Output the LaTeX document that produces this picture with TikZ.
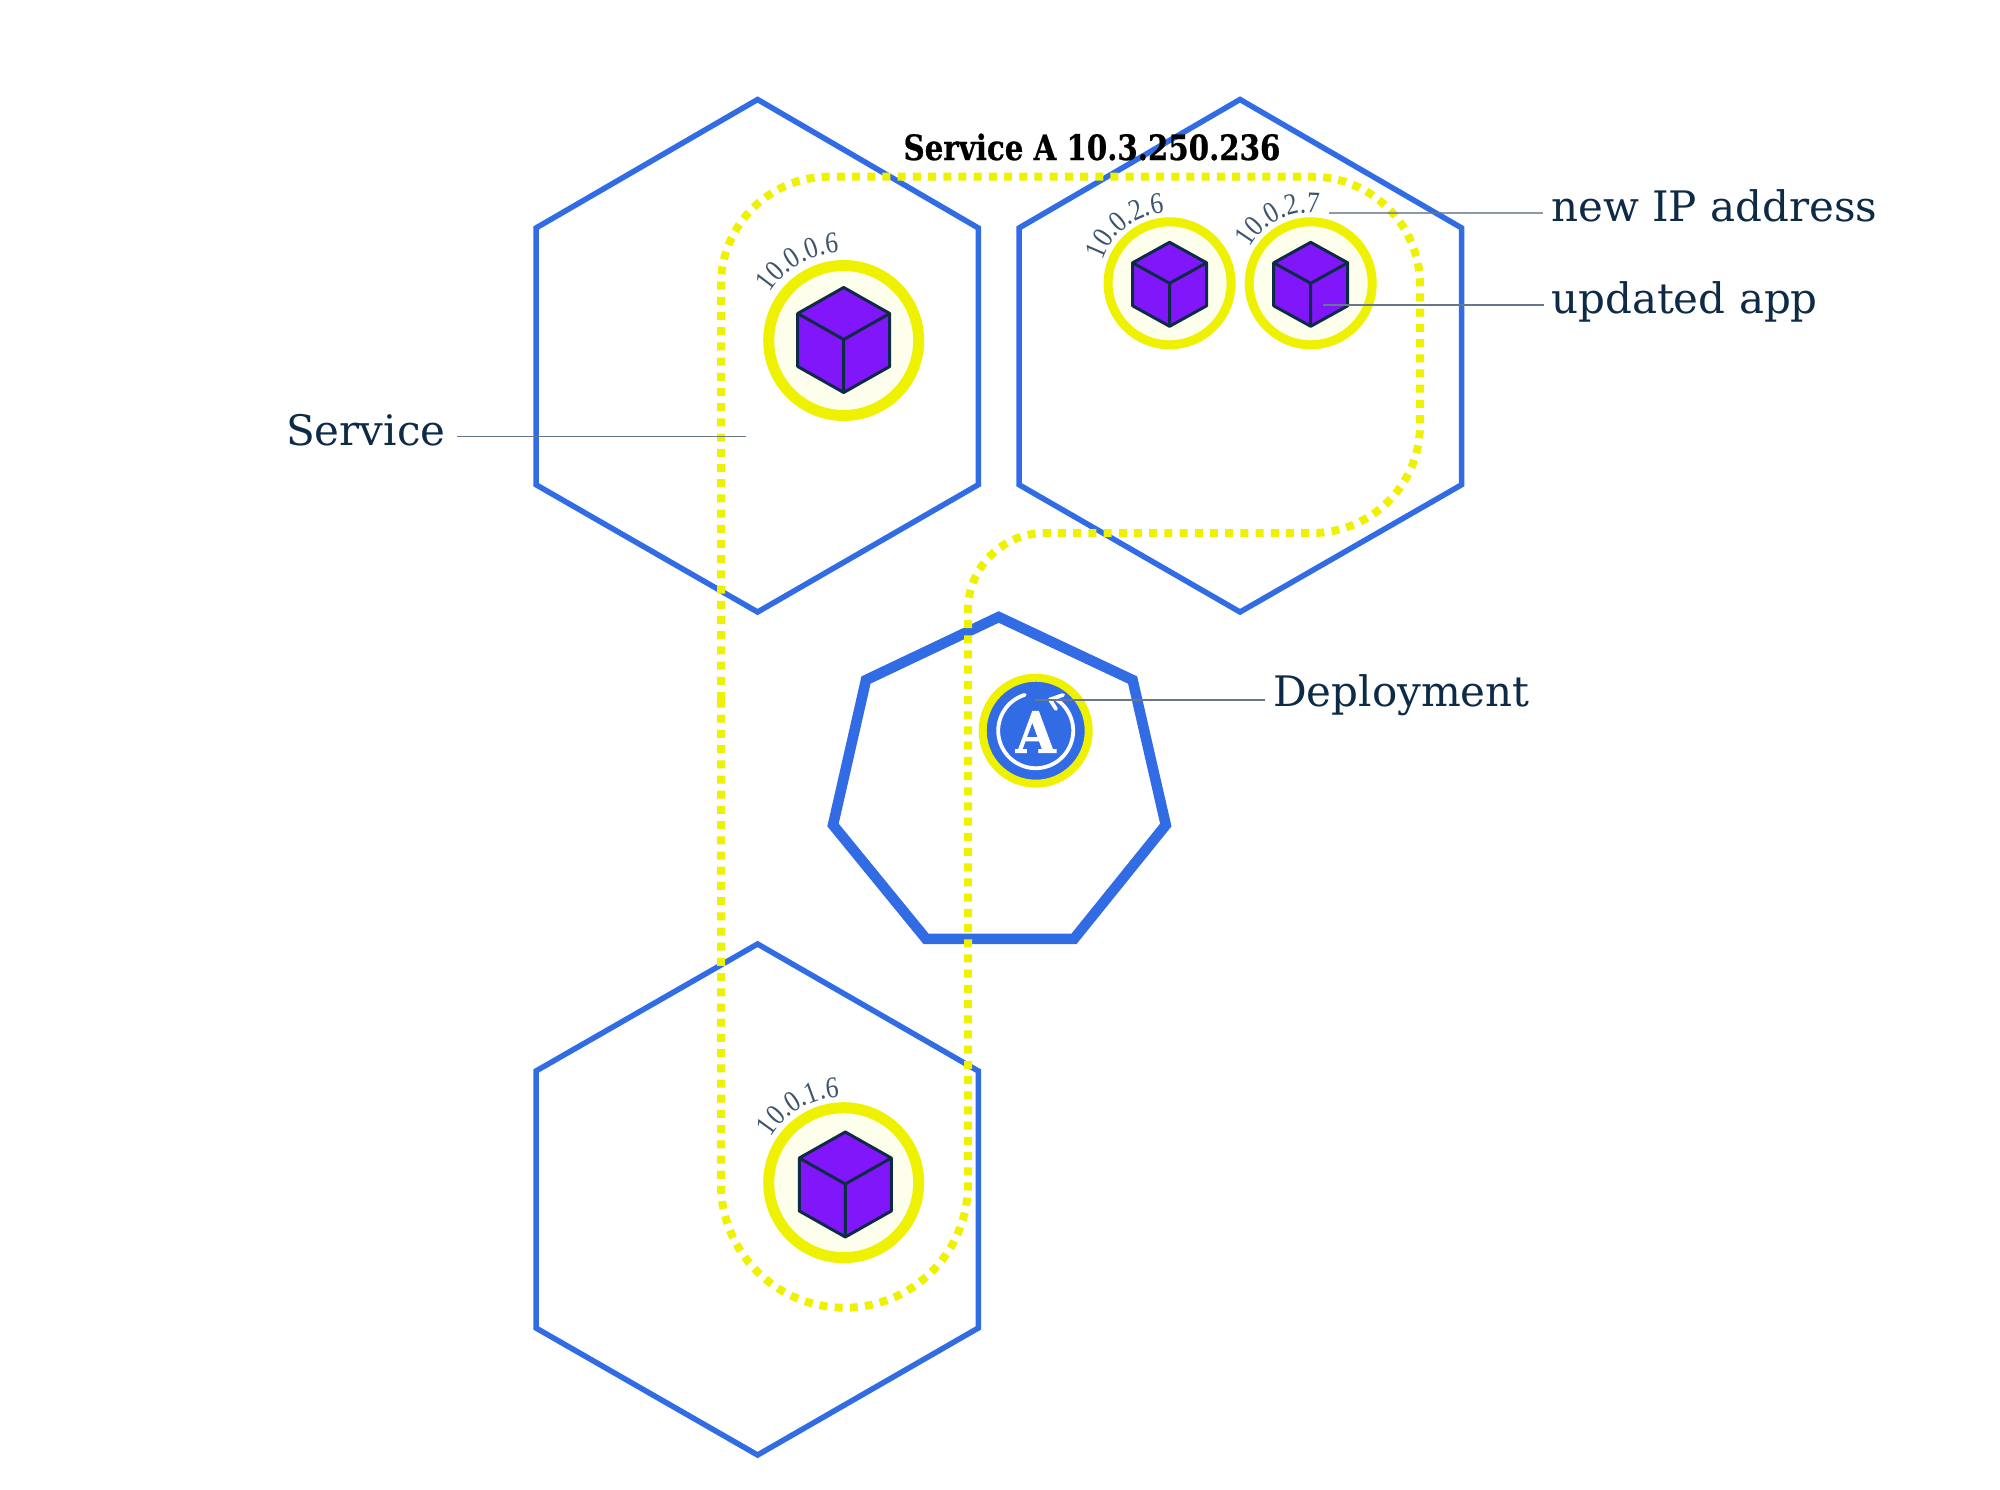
\documentclass[tikz,border=0pt]{standalone}
\usepackage{fontspec}
\usetikzlibrary{decorations.text}
\newfontfamily\slabreg{DejaVu Serif}
\newfontfamily\slabbold[FakeStretch=0.93,FakeBold=0.6]{DejaVu Serif Condensed Bold}
\newfontfamily\slabheavy[FakeBold=1.2]{DejaVu Serif Condensed Bold}
\newfontfamily\ipfont[FakeStretch=0.85]{Liberation Serif}
\definecolor{k8sblue}{HTML}{326CE5}
\definecolor{ringyel}{HTML}{EEF200}
\definecolor{podfill}{HTML}{FDFEEB}
\definecolor{cubepur}{HTML}{8116FB}
\definecolor{navy}{HTML}{0D2B47}
\definecolor{iptext}{HTML}{3D556C}
\definecolor{leader}{HTML}{66788A}
\tikzset{
  hexa/.style={draw=k8sblue,line width=5.5pt,line join=miter},
  hepta/.style={draw=k8sblue,line width=10.5pt,line join=miter},
  svcpath/.style={draw=ringyel,line width=8pt,dash pattern=on 8pt off 7.2pt},
  podbig/.style={circle,draw=ringyel,fill=podfill,line width=11pt,minimum size=150pt,inner sep=0pt},
  podsmall/.style={circle,draw=ringyel,fill=podfill,line width=9pt,minimum size=123pt,inner sep=0pt},
  deploypod/.style={circle,draw=ringyel,fill=k8sblue,line width=8pt,minimum size=106pt,inner sep=0pt},
  cubeface/.style={draw=navy,fill=cubepur,line width=3pt,line join=round},
  cubeedge/.style={draw=navy,line width=3pt},
  sidelabel/.style={text=navy,font=\slabreg\fontsize{42}{42}\selectfont,inner sep=0pt,anchor=west},
  leaderline/.style={draw=leader,line width=1.8pt},
}
\newcommand{\iparc}[5]{% cx, cy, radius, start angle, text
  \path[decorate,decoration={text along path,text color=iptext,raise=0pt,
      text={|\ipfont\fontsize{30}{30}\selectfont|#5}}]
    plot[domain=#4:20,samples=50] ({#1+#3*cos(\x)},{#2-#3*sin(\x)});
}
\newcommand{\cubeat}[5]{% x, y(center vertex), half width, top rise, edge length
  \draw[cubeface] (#1,#2-#4) -- (#1+#3,#2-#4/2) -- (#1+#3,#2-#4/2+#5) -- (#1,#2+#5) -- (#1-#3,#2-#4/2+#5) -- (#1-#3,#2-#4/2) -- cycle;
  \draw[cubeedge] (#1-#3,#2-#4/2) -- (#1,#2) -- (#1+#3,#2-#4/2) (#1,#2) -- (#1,#2+#5);
}
\begin{document}
\begin{tikzpicture}[x=1pt,y=-1pt]
\useasboundingbox (0,0) rectangle (2000,1490);
\fill[white] (0,0) rectangle (2000,1490);
% nodes (hexagons)
\draw[hexa] (757.6,99.5) -- (978.3,228) -- (978.3,484.7) -- (757.6,612) -- (536,484.7) -- (536,228) -- cycle;
\draw[hexa] (1240,99.5) -- (1461.7,228) -- (1461.7,484.7) -- (1240,612) -- (1019,484.7) -- (1019,228) -- cycle;
\draw[hexa] (757.6,944) -- (978.3,1071) -- (978.3,1328) -- (757.6,1455) -- (536,1328) -- (536,1071) -- cycle;
% deployment heptagon
\draw[hepta] (998.7,617) -- (1132.6,680) -- (1165.8,825) -- (1074,938.8) -- (926,938.8) -- (833,825) -- (866,680) -- cycle;
% service outline
\draw[svcpath] (721,700) [rounded corners=108pt] -- (721,176.7) -- (1420,176.7) -- (1420,533) [rounded corners=77pt] -- (968,533) [rounded corners=123.5pt] -- (968,1307.7) -- (721,1307.7) [sharp corners] -- cycle;
% pods
\node[podbig] (podA) at (843.7,340.5) {};
\node[podbig] (podB) at (843.7,1182.7) {};
\node[podsmall] (podC) at (1169.6,283.3) {};
\node[podsmall] (podD) at (1310.7,283.3) {};
% cubes
\cubeat{843.7}{339.5}{46}{52}{53}
\cubeat{845.3}{1184}{46}{52}{53}
\cubeat{1169.6}{283.3}{37}{41}{43}
\cubeat{1310.7}{283.3}{37}{41}{43}
% deployment
\node[deploypod] (dep) at (1035.7,730.7) {};
\draw[white,line width=3.8pt,line cap=round] plot[domain=107:417,samples=70] ({1035.7+37.5*cos(\x)},{730.7-37.5*sin(\x)});
\draw[white,line width=3.8pt,line cap=round,line join=round] (1063,695) -- (1050,699.5) -- (1056,709);
\node[text=white,font=\slabheavy\fontsize{57}{57}\selectfont,inner sep=0pt] (depA) at (1035.7,732) {A};
% ip labels
\iparc{843.7}{340.5}{88}{147}{10.0.0.6}
\iparc{843.7}{1182.7}{86}{148}{10.0.1.6}
\iparc{1169.6}{283.3}{71}{161}{10.0.2.6}
\iparc{1310.7}{283.3}{71}{150}{10.0.2.7}
% title
\node[font=\slabbold\fontsize{35}{35}\selectfont,text=black,inner sep=0pt] (title) at (1092,147) {Service A 10.3.250.236};
% side labels
\node[sidelabel] (lblIP) at (1551,206) {new IP address};
\node[sidelabel] (lblApp) at (1551,301.5) {updated app};
\node[sidelabel] (lblSvc) at (286,430) {Service};
\node[sidelabel] (lblDep) at (1273,695.5) {Deployment};
% leaders
\coordinate (lIPa) at (1329,213); \coordinate (lIPb) at (1543,213);
\coordinate (lAppa) at (1323,305); \coordinate (lAppb) at (1544,305);
\coordinate (lSvca) at (457,436.5); \coordinate (lSvcb) at (746,436.5);
\coordinate (lDepa) at (1035,700); \coordinate (lDepb) at (1265,700);
\draw[leaderline,line width=2.4pt,opacity=.75] (lIPa) -- (lIPb);
\draw[leaderline] (lAppa) -- (lAppb);
\draw[leaderline] (lSvca) -- (lSvcb);
\draw[leaderline] (lDepa) -- (lDepb);
\end{tikzpicture}
\end{document}
